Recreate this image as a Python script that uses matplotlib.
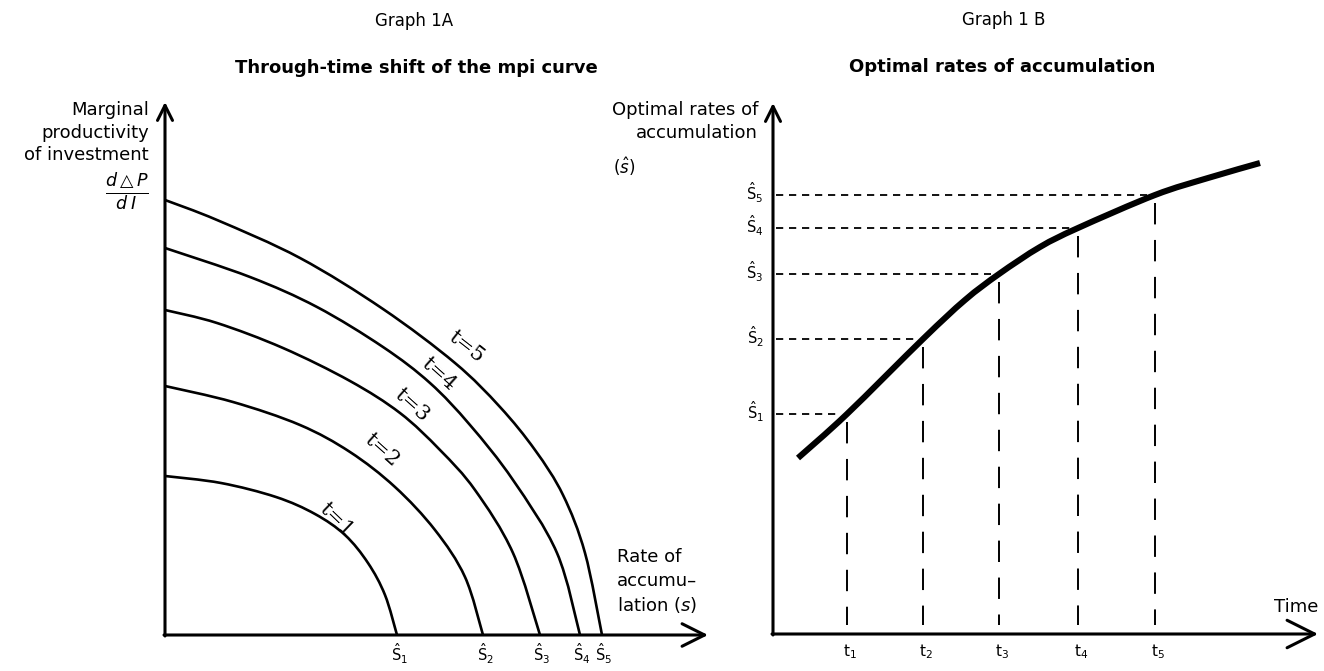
import matplotlib
matplotlib.use("Agg")
import matplotlib.pyplot as plt
from matplotlib.path import Path
from matplotlib.patches import PathPatch

plt.rcParams['font.family'] = ['DejaVu Sans']
plt.rcParams['mathtext.fontset'] = 'dejavusans'

# ---------------- data ----------------
# Graph 1A: marginal productivity of investment curves, one per period
curve_labels = ["t=1", "t=2", "t=3", "t=4", "t=5"]
s_t1 = [0, 56, 111, 150, 180, 203, 220, 232]
m_t1 = [159, 152, 138, 121, 100, 72, 40, 0]
s_t2 = [0, 68, 135, 185, 230, 270, 300, 318]
m_t2 = [249, 233, 210, 183, 148, 105, 58, 0]
s_t3 = [0, 52, 118, 185, 235, 275, 310, 348, 375]
m_t3 = [325, 312, 287, 254, 222, 185, 145, 82, 0]
s_t4 = [0, 85, 152, 218, 265, 305, 348, 392, 415]
m_t4 = [387, 358, 328, 288, 252, 210, 155, 82, 0]
s_t5 = [0, 52, 135, 218, 290, 335, 370, 398, 420, 437]
m_t5 = [435, 415, 377, 326, 272, 228, 185, 140, 82, 0]
shat_labels = [r"$\hat{\mathrm{S}}_1$", r"$\hat{\mathrm{S}}_2$", r"$\hat{\mathrm{S}}_3$",
               r"$\hat{\mathrm{S}}_4$", r"$\hat{\mathrm{S}}_5$"]

# Graph 1B: optimal rates of accumulation over time
time_pts = [74, 150, 226, 305, 382]
shat_vals = [220, 295, 360, 406, 439]
time_labels = [r"$\mathrm{t}_1$", r"$\mathrm{t}_2$", r"$\mathrm{t}_3$", r"$\mathrm{t}_4$", r"$\mathrm{t}_5$"]
path_time = [25, 74, 150, 192, 226, 267, 305, 382, 435, 487]
path_rate = [176, 220, 295, 334, 360, 387, 406, 439, 456, 471]

# ---------------- figure ----------------
W, H = 1324, 671
fig = plt.figure(figsize=(W / 100, H / 100), dpi=100)
fig.patch.set_facecolor("white")


def ftext(x, y, s, **kw):
    fig.text(x / W, 1 - y / H, s, **kw)


def smooth_path(x, y):
    """Catmull-Rom style Bezier path through the read points (drawn by matplotlib)."""
    pts = list(zip(x, y))
    n = len(pts)
    verts = [pts[0]]
    codes = [Path.MOVETO]
    for i in range(n - 1):
        p0 = pts[i - 1] if i > 0 else pts[i]
        p1 = pts[i]
        p2 = pts[i + 1]
        p3 = pts[i + 2] if i + 2 < n else pts[i + 1]
        c1 = (p1[0] + (p2[0] - p0[0]) / 6, p1[1] + (p2[1] - p0[1]) / 6)
        c2 = (p2[0] - (p3[0] - p1[0]) / 6, p2[1] - (p3[1] - p1[1]) / 6)
        verts += [c1, c2, p2]
        codes += [Path.CURVE4] * 3
    return Path(verts, codes)


# titles
ftext(414, 21, "Graph 1A", ha="center", va="center", fontsize=12)
ftext(416, 68, "Through-time shift of the mpi curve", ha="center", va="center",
      fontsize=13, fontweight="bold")
ftext(1004, 20, "Graph 1 B", ha="center", va="center", fontsize=12)
ftext(1002, 67, "Optimal rates of accumulation", ha="center", va="center",
      fontsize=13, fontweight="bold")

# ---------------- left panel ----------------
ox, oy = 165, 635
axL = fig.add_axes([ox / W, (H - oy) / H, 560 / W, 560 / H])
axL.set_xlim(0, 560)
axL.set_ylim(0, 560)
axL.axis("off")

axis_lw = 2.2
arrow_kw = dict(arrowstyle="->,head_length=0.9,head_width=0.45", lw=axis_lw, color="black",
                shrinkA=0, shrinkB=0, mutation_scale=12)
axL.annotate("", xy=(0, 533), xytext=(0, -1), arrowprops=arrow_kw, annotation_clip=False)
axL.annotate("", xy=(543, 0), xytext=(-1, 0), arrowprops=dict(arrow_kw, mutation_scale=18),
             annotation_clip=False)

xs = [s_t1, s_t2, s_t3, s_t4, s_t5]
ys = [m_t1, m_t2, m_t3, m_t4, m_t5]
for x, y in zip(xs, ys):
    axL.add_patch(PathPatch(smooth_path(x, y), fill=False, edgecolor="black", lw=1.9,
                            capstyle="butt", joinstyle="round", clip_on=False))

# curve labels (placed along each curve)
lab_pos = [(171, 115), (217, 185), (247, 230), (274, 261), (301, 288)]
lab_rot = [-44, -42, -42, -42, -38]
for lab, (lx, ly), r in zip(curve_labels, lab_pos, lab_rot):
    axL.text(lx, ly, lab, rotation=r, rotation_mode="anchor", ha="center", va="center",
             fontsize=15, family=["DejaVu Serif"], clip_on=False)

for x, lab in zip([s[-1] for s in xs], shat_labels):
    axL.text(x + 2, -19, lab, ha="center", va="center", fontsize=10.5, clip_on=False)

# axis captions
for i, line in enumerate(["Marginal", "productivity", "of investment"]):
    ftext(149, 110 + i * 22.5, line, ha="right", va="center", fontsize=13)
ftext(127, 192, r"$\frac{d\triangle P}{d\;I}$", ha="center", va="center", fontsize=18)
ftext(617, 557, "Rate of", ha="left", va="center", fontsize=13)
ftext(617, 581, "accumu\u2013", ha="left", va="center", fontsize=13)
ftext(617, 605, r"lation ($s$)", ha="left", va="center", fontsize=13)

# ---------------- right panel ----------------
ox2, oy2 = 773, 634
axR = fig.add_axes([ox2 / W, (H - oy2) / H, (W - ox2) / W, 560 / H])
axR.set_xlim(0, W - ox2)
axR.set_ylim(0, 560)
axR.axis("off")

axR.annotate("", xy=(0, 531), xytext=(0, -1), arrowprops=arrow_kw, annotation_clip=False)
axR.annotate("", xy=(545, 0), xytext=(-1, 0),
             arrowprops=dict(arrow_kw, mutation_scale=22), annotation_clip=False)

axR.add_patch(PathPatch(smooth_path(path_time, path_rate), fill=False, edgecolor="black",
                        lw=4.4, capstyle="butt", joinstyle="round", clip_on=False))

for t, s, tl, sl in zip(time_pts, shat_vals, time_labels, shat_labels):
    axR.plot([3, t - 8], [s, s], color="black", lw=1.3, ls=(0, (4, 3.2)), clip_on=False)
    axR.plot([t, t], [s - 8, 9], color="black", lw=1.4, ls=(0, (11, 8)), clip_on=False)
    axR.text(t + 3, -18, tl, ha="center", va="center", fontsize=11, clip_on=False)
    axR.text(-18, s + 2, sl, ha="center", va="center", fontsize=10.5, clip_on=False)

ftext(758, 110, "Optimal rates of", ha="right", va="center", fontsize=13)
ftext(758, 133, "accumulation", ha="right", va="center", fontsize=13)
ftext(624, 167, r"($\hat{s}$)", ha="center", va="center", fontsize=12)
ftext(1318, 607, "Time", ha="right", va="center", fontsize=13)

fig.savefig("out.png", dpi=100, facecolor="white")
